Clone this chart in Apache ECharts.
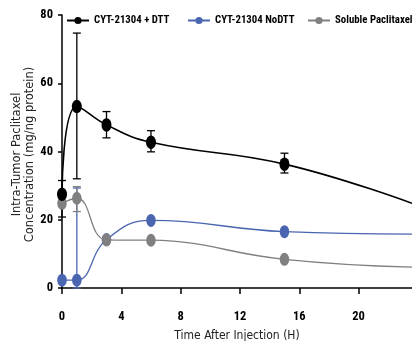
<!DOCTYPE html>
<html>
<head>
<meta charset="utf-8">
<script src="https://cdn.jsdelivr.net/npm/echarts@6/dist/echarts.min.js"></script>
<style>html,body{margin:0;padding:0;background:#fff;}#c{width:412px;height:341px;}</style>
</head>
<body>
<div id="c"></div>
<script>
// Time points (hours); last value is where the fitted curves leave the plot
var times = [0, 1, 3, 6, 15, 23.6];
var seriesNames = ['CYT-21304 + DTT', 'CYT-21304 NoDTT', 'Soluble Paclitaxel'];
var dttValues = [27.5, 53.2, 47.8, 42.7, 36.3, 24.8];
var noDttValues = [2.3, 2.3, 14.2, 19.8, 16.5, 15.8];
var solubleValues = [24.8, 26.3, 14.1, 14.0, 8.4, 6.1];
// error bars: [time, low, high]
var dttErr = [[0, 20.8, 31.5], [1, 32.0, 74.7], [3, 44.0, 51.7], [6, 39.9, 46.1], [15, 33.7, 39.5]];
var noDttErr = [[1, 0, 29.3]];
var solubleErr = [[1, 22.4, 29.7]];
var xTicks = [0, 4, 8, 12, 16, 20];
var yTicks = [0, 20, 40, 60, 80];

var colors = ['#000000', '#4a66b0', '#808080'];
var boldFont = '"Roboto Condensed", "Liberation Sans", Arial, sans-serif';

function pts(vals) {
  return vals.map(function (v, i) {
    var last = i === vals.length - 1;
    return { value: [times[i], v], symbolSize: last ? 0 : undefined };
  });
}

function errSeries(name, data, color) {
  return {
    type: 'custom', name: name, data: data, z: 3, clip: false,
    renderItem: function (params, api) {
      var x = api.value(0);
      var lo = api.coord([x, api.value(1)]);
      var hi = api.coord([x, api.value(2)]);
      var w = 4;
      var st = { stroke: color, lineWidth: 1.3, fill: null };
      return {
        type: 'group',
        children: [
          { type: 'line', shape: { x1: lo[0], y1: lo[1], x2: hi[0], y2: hi[1] }, style: st },
          { type: 'line', shape: { x1: hi[0] - w, y1: hi[1], x2: hi[0] + w, y2: hi[1] }, style: st },
          { type: 'line', shape: { x1: lo[0] - w, y1: lo[1], x2: lo[0] + w, y2: lo[1] }, style: st }
        ]
      };
    }
  };
}

function lineSeries(name, vals, color, size, lw) {
  return {
    type: 'line', name: name, data: pts(vals), smooth: 0.45,
    symbol: 'circle', symbolSize: size, clip: false, z: 4,
    itemStyle: { color: color },
    lineStyle: { color: color, width: lw }
  };
}

function legendAt(name, left) {
  return {
    data: [name], left: left, top: 15, itemWidth: 22, itemHeight: 9, itemGap: 0, padding: 0,
    textStyle: { fontFamily: boldFont, fontWeight: 'bold', fontSize: 10.8, color: '#000' }
  };
}

var chart = echarts.init(document.getElementById('c'), null, { renderer: 'canvas' });
chart.setOption({
  animation: false,
  backgroundColor: '#ffffff',
  grid: { left: 62, right: 0, top: 15, bottom: 53, outerBoundsMode: 'none', containLabel: false },
  legend: [legendAt(seriesNames[0], 66), legendAt(seriesNames[1], 187), legendAt(seriesNames[2], 307)],
  xAxis: {
    type: 'value', min: 0, max: 23.6, interval: 4,
    name: 'Time After Injection (H)', nameLocation: 'middle', nameGap: 42, nameMoveOverlap: false,
    nameTextStyle: { fontFamily: '"DejaVu Sans Condensed", "DejaVu Sans", sans-serif', fontSize: 12, color: '#222' },
    axisLine: { lineStyle: { color: '#000', width: 1.5 } },
    axisTick: { length: 6, lineStyle: { color: '#000', width: 1.5 } },
    axisLabel: {
      margin: 22, color: '#000', fontFamily: boldFont, fontWeight: 'bold', fontSize: 12.5, showMaxLabel: false,
      formatter: function (v) { return xTicks.indexOf(v) >= 0 ? String(v) : ''; }
    },
    splitLine: { show: false }
  },
  yAxis: {
    type: 'value', min: 0, max: 80, interval: 20,
    name: 'Intra-Tumor Paclitaxel\nConcentration (mg/ng protein)', nameLocation: 'middle', nameGap: 25, nameRotate: 90, nameMoveOverlap: false,
    nameTextStyle: { fontFamily: '"DejaVu Sans", sans-serif', fontSize: 11.5, color: '#222', lineHeight: 13, padding: [0, 6, 0, 0] },
    axisLine: { show: true, lineStyle: { color: '#000', width: 1.5 } },
    axisTick: { show: true, length: 4, lineStyle: { color: '#000', width: 1.5 } },
    axisLabel: {
      margin: 9, color: '#000', fontFamily: boldFont, fontWeight: 'bold', fontSize: 12.5,
      formatter: function (v) { return yTicks.indexOf(v) >= 0 ? String(v) : ''; }
    },
    splitLine: { show: false }
  },
  series: [
    errSeries('err-dtt', dttErr, colors[0]),
    errSeries('err-nodtt', noDttErr, colors[1]),
    errSeries('err-sol', solubleErr, colors[2]),
    lineSeries(seriesNames[1], noDttValues, colors[1], [9.5, 13], 1.3),
    lineSeries(seriesNames[2], solubleValues, colors[2], [9.5, 13], 1.3),
    lineSeries(seriesNames[0], dttValues, colors[0], [10, 13.5], 1.6)
  ]
});
</script>
</body>
</html>
